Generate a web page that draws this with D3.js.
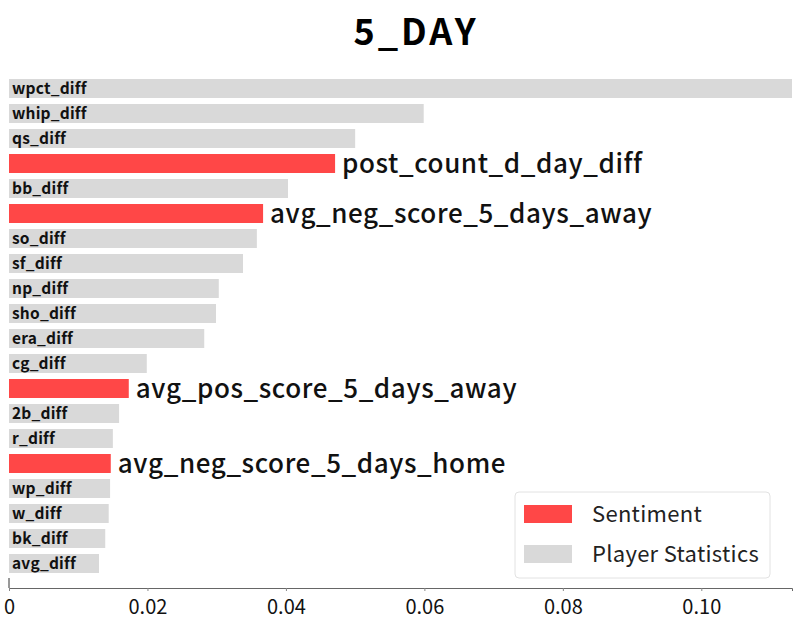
<!DOCTYPE html>
<html>
<head>
<meta charset="utf-8">
<script src="https://cdn.jsdelivr.net/npm/d3@7"></script>
<style>
  body { margin: 0; background: #fff; }
  svg { font-family: "Noto Sans CJK KR", "Noto Sans", sans-serif; }
</style>
</head>
<body>
<div id="chart"></div>
<script>
// feature importances, top to bottom
var features = ["wpct_diff", "whip_diff", "qs_diff", "post_count_d_day_diff", "bb_diff",
  "avg_neg_score_5_days_away", "so_diff", "sf_diff", "np_diff", "sho_diff", "era_diff",
  "cg_diff", "avg_pos_score_5_days_away", "2b_diff", "r_diff", "avg_neg_score_5_days_home",
  "wp_diff", "w_diff", "bk_diff", "avg_diff"];
var importance = [0.1131, 0.0599, 0.0500, 0.0471, 0.0403, 0.0367, 0.0358, 0.0338, 0.0303,
  0.0299, 0.0282, 0.0199, 0.0173, 0.0159, 0.0150, 0.0147, 0.0146, 0.0144, 0.0139, 0.0130];
var groups = ["Player Statistics", "Player Statistics", "Player Statistics", "Sentiment",
  "Player Statistics", "Sentiment", "Player Statistics", "Player Statistics", "Player Statistics",
  "Player Statistics", "Player Statistics", "Player Statistics", "Sentiment", "Player Statistics",
  "Player Statistics", "Sentiment", "Player Statistics", "Player Statistics", "Player Statistics",
  "Player Statistics"];
var legendKeys = ["Sentiment", "Player Statistics"];
var xTicks = [0, 0.02, 0.04, 0.06, 0.08, 0.10];
var title = "5_DAY";

var data = features.map(function (f, i) {
  return { name: f, value: importance[i], group: groups[i] };
});

var W = 800, H = 636;
var margin = { top: 76, right: 8, bottom: 48, left: 9 };
var width = W - margin.left - margin.right,
    height = H - margin.top - margin.bottom;

var svg = d3.select("#chart").append("svg")
  .attr("width", W).attr("height", H);
var inner = svg.append("g")
  .attr("transform", "translate(" + margin.left + "," + margin.top + ")");

var color = d3.scaleOrdinal().domain(legendKeys).range(["#ff4747", "#d9d9d9"]);

var x = d3.scaleLinear().domain([0, 0.1131]).range([0, width]);
var y = d3.scaleBand().domain(features).range([0, 500]).paddingInner(0.24).paddingOuter(0.12);

// title
svg.append("text")
  .attr("x", 416).attr("y", 45)
  .attr("text-anchor", "middle")
  .style("font-size", "36px").style("font-weight", "bold")
  .style("letter-spacing", "3px")
  .text(title);

// bars
inner.selectAll(".bar")
  .data(data).enter().append("rect")
  .attr("x", 0)
  .attr("y", function (d) { return y(d.name); })
  .attr("width", function (d) { return x(d.value); })
  .attr("height", y.bandwidth())
  .style("fill", function (d) { return color(d.group); });

// labels: stats inside the bar, sentiment after it
inner.selectAll(".lab")
  .data(data).enter().append("text")
  .attr("x", function (d) { return d.group == "Sentiment" ? x(d.value) + 7 : 3; })
  .attr("y", function (d) { return y(d.name) + y.bandwidth() / 2; })
  .attr("dy", "0.36em")
  .style("font-size", function (d) { return d.group == "Sentiment" ? "26px" : "15.5px"; })
  .style("font-weight", function (d) { return d.group == "Sentiment" ? "500" : "bold"; })
  .style("letter-spacing", function (d) { return d.group == "Sentiment" ? "0.6px" : "0.2px"; })
  .style("fill", "#111")
  .text(function (d) { return d.name; });

// x axis
var xAxis = inner.append("g")
  .attr("transform", "translate(0," + 512 + ")")
  .attr("font-size", null).attr("font-family", null)
  .call(d3.axisBottom(x).tickValues(xTicks).tickSize(3).tickPadding(9)
    .tickFormat(function (d) { return d == 0 ? "0" : d3.format(".2f")(d); }));
xAxis.attr("font-size", 20).attr("font-family", "Noto Sans CJK KR, sans-serif");
xAxis.select(".domain").style("stroke", "#666");
xAxis.selectAll("line").style("stroke", "#888");
xAxis.selectAll("text").style("fill", "#111");

// small left stub
inner.append("line")
  .attr("x1", 0).attr("x2", 0).attr("y1", 502).attr("y2", 512)
  .style("stroke", "#333");

// legend
var legend = svg.append("g").attr("transform", "translate(515,492)");
legend.append("rect")
  .attr("width", 255).attr("height", 86).attr("rx", 4)
  .style("fill", "#fff").style("stroke", "#e2e2e2");
legend.selectAll(".key")
  .data(legendKeys).enter().append("rect")
  .attr("x", 9).attr("y", function (d, i) { return 13 + i * 40; })
  .attr("width", 48).attr("height", 18)
  .style("fill", function (d) { return color(d); });
legend.selectAll(".keytxt")
  .data(legendKeys).enter().append("text")
  .attr("x", 77).attr("y", function (d, i) { return 22 + i * 40; })
  .attr("dy", "0.36em")
  .style("font-size", "22px").style("fill", "#222")
  .style("letter-spacing", "0.3px")
  .text(function (d) { return d; });
</script>
</body>
</html>
